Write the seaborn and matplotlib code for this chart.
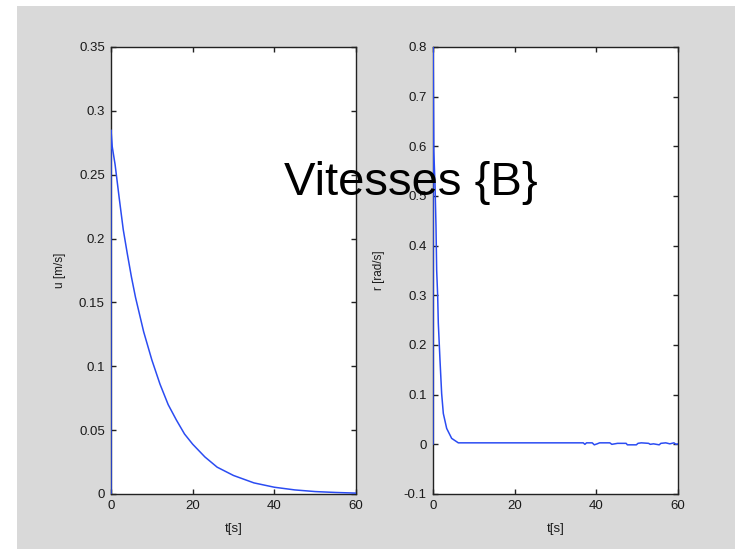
import matplotlib
matplotlib.use("Agg")
import matplotlib.pyplot as plt
import matplotlib.patches as mpatches
import pandas as pd
import seaborn as sns

# surge speed u [m/s]
t_u = [0, 0, 0.3, 1, 2, 3, 4, 5, 6, 8, 10, 12, 14, 16, 18, 20,
       23, 26, 30, 35, 40, 45, 50, 55, 60]
u_vals = [0, 0.285, 0.272, 0.258, 0.232, 0.207, 0.188, 0.170, 0.154, 0.127,
          0.105, 0.086, 0.070, 0.058, 0.047, 0.039, 0.029, 0.021, 0.0145,
          0.0087, 0.0053, 0.0032, 0.0019, 0.0012, 0.0007]

# yaw rate r [rad/s]
t_r = [0, 0.03, 0.2, 0.5, 0.73, 0.9, 1.14, 1.3, 1.71, 2.12, 2.53, 3.35,
       4.57, 6.2, 20, 36.8, 37.2, 37.6, 39, 39.5, 40.2, 40.8, 43.3, 43.8,
       44.5, 45.2, 46, 47.3, 47.6, 49.8, 50.2, 51, 52.8, 53.2, 54, 55.4,
       55.8, 57, 58, 59, 59.5, 60]
r_vals = [0, 0.80, 0.59, 0.52, 0.44, 0.35, 0.30, 0.244, 0.170, 0.102, 0.062,
          0.032, 0.012, 0.003, 0.003, 0.003, 0.0, 0.003, 0.003, -0.001,
          0.001, 0.003, 0.003, 0.0, 0.001, 0.002, 0.002, 0.002, -0.001,
          -0.001, 0.002, 0.003, 0.002, 0.0, 0.001, -0.001, 0.002, 0.003,
          0.001, 0.003, 0.0, 0.001]

u_ticks = [0, 0.05, 0.1, 0.15, 0.2, 0.25, 0.3, 0.35]
u_labels = ["0", "0.05", "0.1", "0.15", "0.2", "0.25", "0.3", "0.35"]
r_ticks = [-0.1, 0, 0.1, 0.2, 0.3, 0.4, 0.5, 0.6, 0.7, 0.8]
r_labels = ["-0.1", "0", "0.1", "0.2", "0.3", "0.4", "0.5", "0.6", "0.7", "0.8"]
t_ticks = [0, 20, 40, 60]

df_u = pd.DataFrame({"t": t_u, "u": u_vals})
df_r = pd.DataFrame({"t": t_r, "r": r_vals})

sns.set_theme(style="white")
plt.rcParams["font.family"] = ["Liberation Sans", "DejaVu Sans"]

W, H = 735, 549
fig = plt.figure(figsize=(W / 100, H / 100), dpi=100)
fig.patch.set_facecolor("white")
# grey MATLAB-like figure background with a thin white margin top/left
fig.patches.append(mpatches.Rectangle((17 / W, 0), 1, (H - 6) / H,
                                      transform=fig.transFigure,
                                      facecolor="#d9d9d9", edgecolor="none",
                                      zorder=-10))

ax1 = fig.add_axes([111 / W, 1 - 494 / H, 245 / W, 447 / H])
ax2 = fig.add_axes([433 / W, 1 - 494 / H, 245 / W, 447 / H])

line_color = "#2b4cf2"
sns.lineplot(data=df_u, x="t", y="u", ax=ax1, color=line_color, lw=1.1,
             estimator=None, sort=False, zorder=3)
sns.lineplot(data=df_r, x="t", y="r", ax=ax2, color=line_color, lw=1.1,
             estimator=None, sort=False, zorder=3)

for ax, yt, yl, ylim, ylab, lx in [
        (ax1, u_ticks, u_labels, (0, 0.35), "u [m/s]", -0.184),
        (ax2, r_ticks, r_labels, (-0.1, 0.8), "r [rad/s]", -0.196)]:
    ax.set_facecolor("white")
    ax.set_xlim(0, 60)
    ax.set_ylim(*ylim)
    ax.set_xticks(t_ticks)
    ax.set_xticklabels([str(v) for v in t_ticks])
    ax.set_yticks(yt)
    ax.set_yticklabels(yl)
    ax.tick_params(axis="both", direction="in", length=3.3, width=1,
                   color="#222222", labelcolor="#1a1a1a", labelsize=9.5,
                   top=True, right=True, bottom=True, left=True)
    ax.tick_params(axis="x", pad=4)
    ax.tick_params(axis="y", pad=4.5)
    for sp in ax.spines.values():
        sp.set_visible(True)
        sp.set_color("#222222")
        sp.set_linewidth(1.0)
    ax.set_xlabel("t[s]", fontsize=9.5, color="#1a1a1a")
    ax.set_ylabel(ylab, fontsize=8.5, color="#1a1a1a")
    ax.xaxis.set_label_coords(0.5, -0.065)
    ax.yaxis.set_label_coords(lx, 0.5)
    ax.grid(False)

fig.text(410.5 / W, 1 - 195 / H, "Vitesses {B}", fontsize=34,
         ha="center", va="baseline", color="black", zorder=10)

fig.savefig("out.png", dpi=100)
